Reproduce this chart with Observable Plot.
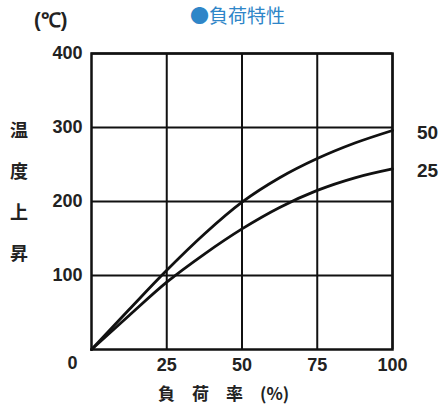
<!DOCTYPE html>
<html><head><meta charset="utf-8">
<script src="https://cdn.jsdelivr.net/npm/d3@7"></script>
<script src="https://cdn.jsdelivr.net/npm/@observablehq/plot@0.6"></script>
<style>
html,body{margin:0;padding:0;background:#fff;}
#wrap{position:relative;width:441px;height:412px;}
.lab{position:absolute;font-family:"Noto Sans CJK JP";color:#222;white-space:nowrap;line-height:1.2;}
</style></head>
<body><div id="wrap"></div>
<script>
const loadPct = [0, 12.5, 25, 37.5, 50, 62.5, 75, 87.5, 100];
const rise50 = [0, 54, 107, 156, 199, 232, 258, 279, 296];
const rise25 = [0, 46, 91, 129, 163, 192, 215, 232, 244];
const seriesNames = ["50", "25"];
const xTicks = [25, 50, 75, 100];
const yTicks = [100, 200, 300, 400];

const data = [];
[rise50, rise25].forEach((arr, si) => arr.forEach((v, i) => data.push({s: seriesNames[si], x: loadPct[i], y: v})));
const ends = data.filter(d => d.x === 100);

const font = "Liberation Sans";
const chart = Plot.plot({
  width: 441, height: 412,
  marginLeft: 91, marginRight: 49, marginTop: 53, marginBottom: 63,
  style: {fontFamily: font, background: "#fff"},
  x: {domain: [0, 100]},
  y: {domain: [0, 400]},
  marks: [
    Plot.ruleX(xTicks, {stroke: "#111", strokeWidth: 2}),
    Plot.ruleY(yTicks, {stroke: "#111", strokeWidth: 2}),
    Plot.frame({stroke: "#111", strokeWidth: 2.5}),
    Plot.line(data, {x: "x", y: "y", z: "s", curve: "monotone-x", stroke: "#111", strokeWidth: 2.8}),
    Plot.axisX(xTicks, {tickSize: 0, tickPadding: 9, fontSize: 18, fontWeight: "bold", fill: "#222", label: null}),
    Plot.text([0], {x: d => d, frameAnchor: "bottom", y: 0, dy: 19, dx: -19, text: d => String(d), fontSize: 18, fontWeight: "bold", fill: "#222"}),
    Plot.axisY(yTicks, {tickSize: 0, tickPadding: 9, fontSize: 18, fontWeight: "bold", fill: "#222", label: null}),
    Plot.text(ends, {x: "x", y: "y", text: "s", dx: 35, dy: 2, fontSize: 19, fontWeight: "bold", fill: "#222"})
  ]
});
const wrap = document.getElementById("wrap");
chart.style.position = "absolute"; chart.style.left = "0"; chart.style.top = "0";
wrap.appendChild(chart);

function lab(text, x, y, size, extra) {
  const d = document.createElement("div");
  d.className = "lab"; d.textContent = text;
  d.style.left = x + "px"; d.style.top = y + "px"; d.style.fontSize = size + "px";
  Object.assign(d.style, extra || {});
  wrap.appendChild(d);
}
lab("●負荷特性", 190, 4, 19, {color: "#2f86c8"});
lab("(℃)", 34, 8, 20, {fontFamily: "Liberation Sans", fontWeight: "bold"});
["温", "度", "上", "昇"].forEach((c, i) => lab(c, 10, 119 + i * 41, 18, {fontWeight: "bold"}));
lab("負　荷　率　(%)", 158, 383, 17, {fontWeight: "bold"});
</script></body></html>
